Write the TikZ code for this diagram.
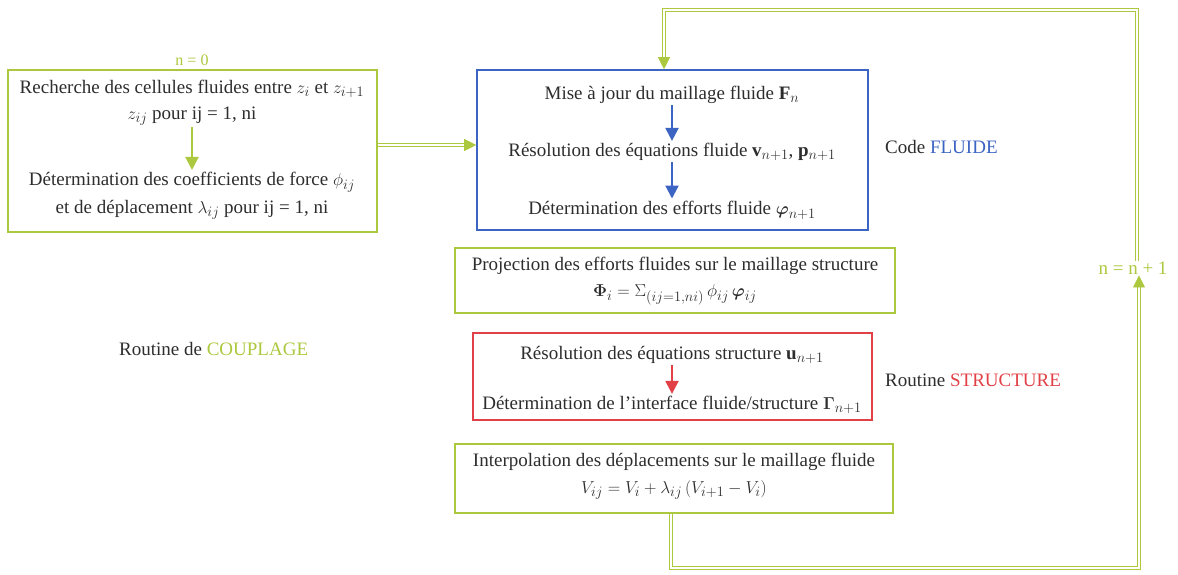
\documentclass[tikz,border=0pt]{standalone}
\usepackage{amsmath}
\usepackage{fontspec}
\setmainfont{Liberation Serif}
\usetikzlibrary{arrows.meta}
\definecolor{vert}{RGB}{172,200,62}
\definecolor{bleu}{RGB}{60,100,195}
\definecolor{rouge}{RGB}{225,65,70}
\definecolor{texte}{RGB}{45,45,45}

\begin{document}
\begin{tikzpicture}[x = 1pt, y = -1pt, font = \fontsize{19}{22}\selectfont, text = texte,
    box/.style = {draw, line width = 1.6pt, inner sep = 0pt},
    line/.style = {inner sep = 1pt},
    fleche/.style = {-{Triangle[length = 13pt, width = 13pt]}, line width = 2.2pt, shorten >= 1pt},
    boucle/.style = {draw = vert, double = white, double distance = 2pt, line width = 0.8pt,
        -{Triangle[length = 12pt, width = 12pt]}}]
    \useasboundingbox (0, 0) rectangle (1178, 575);

    % boxes
    \node[box, draw = vert, minimum width = 369pt, minimum height = 162pt](couplage) at (192.5, 151) {};
    \node[box, draw = bleu, minimum width = 391pt, minimum height = 160pt](fluide) at (672.5, 150) {};
    \node[box, draw = vert, minimum width = 440pt, minimum height = 65pt](projection) at (675, 280.5) {};
    \node[box, draw = rouge, minimum width = 399pt, minimum height = 87pt](structure) at (672.5, 376.5) {};
    \node[box, draw = vert, minimum width = 438pt, minimum height = 69pt](interp) at (674, 478.5) {};

    % couplage
    \node[line, text = vert, font = \fontsize{16}{18}\selectfont](n0) at (192, 60) {n = 0};
    \node[line](rech) at (192, 89) {Recherche des cellules fluides entre $z_i$ et $z_{i+1}$};
    \node[line](zij) at (192, 116) {$z_{ij}$ pour ij = 1, ni};
    \node[line](coef) at (192, 182) {Détermination des coefficients de force $\phi_{ij}$};
    \node[line](depl) at (192, 210) {et de déplacement $\lambda_{ij}$ pour ij = 1, ni};

    % fluide
    \node[line](maj) at (672, 95) {Mise à jour du maillage fluide $\mathbf{F}_n$};
    \node[line](reso) at (672, 152) {Résolution des équations fluide $\mathbf{v}_{n+1}$, $\mathbf{p}_{n+1}$};
    \node[line](eff) at (672, 210) {Détermination des efforts fluide $\boldsymbol{\varphi}_{n+1}$};

    % projection
    \node[line](proj1) at (675, 266) {Projection des efforts fluides sur le maillage structure};
    \node[line](proj2) at (675, 295) {$\boldsymbol{\Phi}_i = \Sigma_{(ij=1,ni)}\, \phi_{ij}\, \boldsymbol{\varphi}_{ij}$};

    % structure
    \node[line](resos) at (672, 355) {Résolution des équations structure $\mathbf{u}_{n+1}$};
    \node[line](inter) at (672, 405) {Détermination de l'interface fluide/structure $\boldsymbol{\Gamma}_{n+1}$};

    % interpolation
    \node[line](interp1) at (674, 462) {Interpolation des déplacements sur le maillage fluide};
    \node[line](interp2) at (674, 490) {$V_{ij} = V_i + \lambda_{ij}\,(V_{i+1} - V_i)$};

    % labels
    \node[line, anchor = west](codef) at (884, 147) {Code \textcolor{bleu}{FLUIDE}};
    \node[line, anchor = west](routs) at (884, 380) {Routine \textcolor{rouge}{STRUCTURE}};
    \node[line, anchor = west](routc) at (118, 349) {Routine de \textcolor{vert}{COUPLAGE}};
    \node[line, text = vert](incr) at (1133, 268) {n = n + 1};

    \coordinate(b1) at (671, 568);
    \coordinate(b2) at (1139, 568);
    \coordinate(t1) at (1137, 10);
    \coordinate(t2) at (664, 10);

    \draw[fleche, vert](zij) -- (coef);
    \draw[fleche, bleu](maj) -- (reso);
    \draw[fleche, bleu](reso) -- (eff);
    \draw[fleche, rouge](resos) -- (inter);

    \draw[boucle]([yshift = 6pt]couplage.east) -- ([yshift = 5pt]fluide.west);
    \draw[boucle](interp.south -| b1) -- (b1) -- (b2) -- (b2 |- incr.south);
    \draw[boucle](incr.north -| t1) -- (t1) -- (t2) -- (t2 |- fluide.north);
\end{tikzpicture}
\end{document}
